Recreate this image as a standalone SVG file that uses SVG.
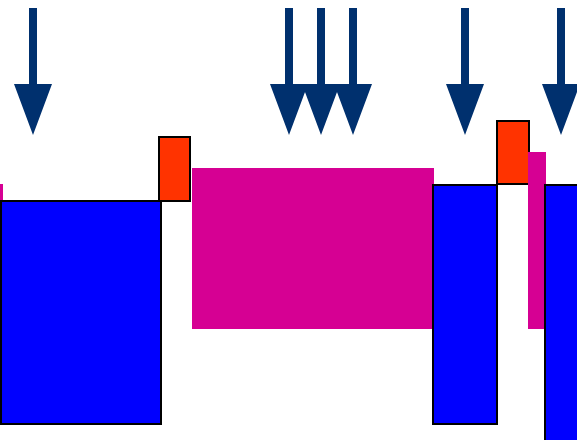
<svg xmlns="http://www.w3.org/2000/svg" width="577" height="440" viewBox="0 0 577 440">
<style>
.blue{fill:#0000FF;stroke:#000;stroke-width:2}
.org{fill:#FF3300;stroke:#000;stroke-width:2}
.mag{fill:#D60093}
.arr{fill:#00306E}
</style>
<defs>
<path id="arrow" class="arr" d="M-4,8 H4 V84 H19 L0,135 L-19,84 H-4 Z"/>
</defs>
<rect width="577" height="440" fill="#fff"/>
<g id="magenta">
<rect id="m1" class="mag" x="0" y="184" width="3" height="17"/>
<rect id="m2" class="mag" x="192" y="168" width="242" height="161"/>
</g>
<g id="orange1"><rect class="org" x="159" y="137" width="31" height="64"/></g>
<g id="orange2"><rect class="org" x="497" y="121" width="32" height="63"/></g>
<g id="m3"><rect class="mag" x="528" y="152" width="18" height="177"/></g>
<g id="blue1"><rect class="blue" x="1" y="201" width="160" height="223"/></g>
<g id="blue2"><rect class="blue" x="433" y="185" width="64" height="239"/></g>
<g id="blue3"><rect class="blue" x="545" y="185" width="34" height="260"/></g>
<g id="connectors">
<use href="#arrow" x="33"/>
<use href="#arrow" x="289"/>
<use href="#arrow" x="321"/>
<use href="#arrow" x="353"/>
<use href="#arrow" x="465"/>
<use href="#arrow" x="561"/>
</g>
</svg>
